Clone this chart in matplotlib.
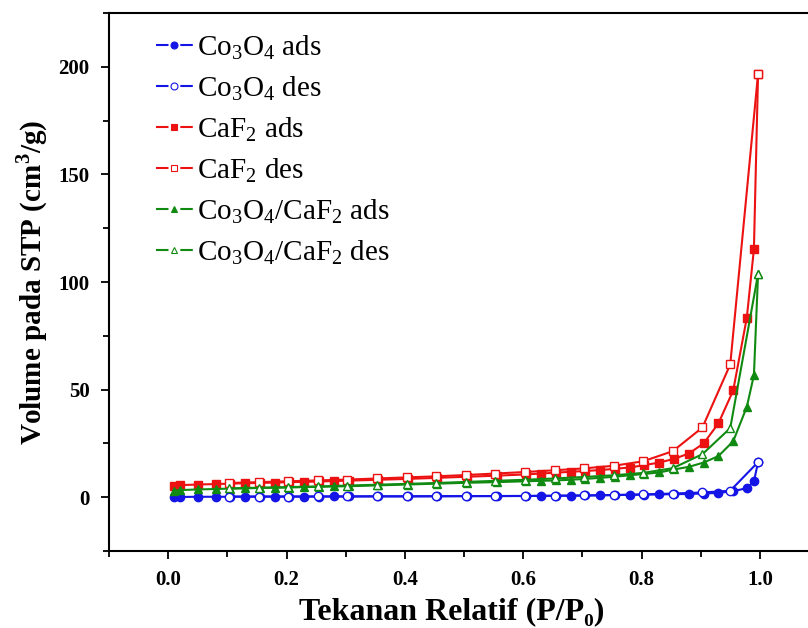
import matplotlib
matplotlib.use("Agg")
import matplotlib.pyplot as plt
from matplotlib.ticker import MultipleLocator
from matplotlib.lines import Line2D

plt.rcParams['font.family'] = ['Liberation Serif', 'DejaVu Serif']
plt.rcParams['mathtext.fontset'] = 'custom'
plt.rcParams['mathtext.rm'] = 'Liberation Serif'
plt.rcParams['mathtext.bf'] = 'Liberation Serif:bold'
plt.rcParams['lines.scale_dashes'] = False

# ---------------------------
# Data
# ---------------------------
ads_x = [0.01, 0.02, 0.05, 0.08, 0.105, 0.13, 0.155, 0.18, 0.205, 0.23, 0.255, 0.28,
         0.305, 0.355, 0.405, 0.455, 0.505, 0.555, 0.605, 0.63, 0.655, 0.68, 0.705,
         0.73, 0.755, 0.78, 0.805, 0.83, 0.855, 0.88, 0.905, 0.93, 0.955, 0.978, 0.99, 0.997]
des_x = [0.997, 0.95, 0.903, 0.853, 0.803, 0.753, 0.703, 0.653, 0.603, 0.553, 0.503,
         0.453, 0.403, 0.353, 0.303, 0.253, 0.203, 0.153, 0.103]

co3o4_ads = [0.0, 0.1, 0.2, 0.2, 0.2, 0.25, 0.25, 0.3, 0.3, 0.3, 0.3, 0.35,
             0.35, 0.4, 0.4, 0.45, 0.5, 0.5, 0.55, 0.6, 0.65, 0.7, 0.8,
             0.9, 1.0, 1.1, 1.2, 1.3, 1.4, 1.5, 1.7, 2.0, 2.8, 4.2, 7.3, 16.3]
co3o4_des = [16.3, 3.0, 2.2, 1.7, 1.3, 1.0, 0.8, 0.7, 0.6, 0.55, 0.5,
             0.45, 0.4, 0.4, 0.35, 0.35, 0.3, 0.3, 0.3]

caf2_ads = [5.2, 5.6, 5.9, 6.1, 6.3, 6.5, 6.6, 6.8, 7.0, 7.1, 7.3, 7.5,
            7.7, 8.1, 8.5, 9.0, 9.5, 10.0, 10.6, 11.0, 11.4, 11.8, 12.2,
            12.6, 13.2, 13.8, 14.9, 16.1, 17.8, 20.3, 25.0, 34.3, 49.6, 83.4, 115.3, 196.7]
caf2_des = [196.7, 61.7, 32.4, 21.4, 16.7, 14.6, 13.4, 12.5, 11.7, 11.0, 10.3,
            9.7, 9.2, 8.7, 8.2, 7.8, 7.4, 7.0, 6.6]

mix_ads = [3.0, 3.3, 3.6, 3.8, 4.0, 4.1, 4.3, 4.4, 4.5, 4.7, 4.8, 5.0,
           5.1, 5.5, 5.9, 6.3, 6.7, 7.0, 7.4, 7.6, 7.8, 8.1, 8.5,
           9.0, 9.5, 10.2, 10.8, 11.5, 12.9, 14.1, 16.1, 19.1, 26.0, 42.0, 56.7, 103.7]
mix_des = [103.7, 32.1, 20.0, 13.5, 11.3, 10.2, 9.4, 8.7, 8.1, 7.6, 7.1,
           6.6, 6.2, 5.8, 5.4, 5.0, 4.7, 4.4, 4.1]

BLUE = "#1414e6"
RED = "#ec1212"
GREEN = "#118a11"

fig = plt.figure(figsize=(8.08, 6.28), dpi=100)
# 0.0 at x=168px, 1.0 at x=760px -> 592 px per unit; right spine falls off the canvas
ax = fig.add_axes([109 / 808, 77 / 628, 710 / 808, 538 / 628])

series = [
    (ads_x, co3o4_ads, BLUE, "o", True, r"Co$_3$O$_4$ ads"),
    (des_x, co3o4_des, BLUE, "o", False, r"Co$_3$O$_4$ des"),
    (ads_x, caf2_ads, RED, "s", True, r"CaF$_2$ ads"),
    (des_x, caf2_des, RED, "s", False, r"CaF$_2$ des"),
    (ads_x, mix_ads, GREEN, "^", True, r"Co$_3$O$_4$/CaF$_2$ ads"),
    (des_x, mix_des, GREEN, "^", False, r"Co$_3$O$_4$/CaF$_2$ des"),
]

handles = []
labels = []
for xs, ys, c, m, filled, lab in series:
    fc = c if filled else "white"
    ax.plot(xs, ys, color=c, lw=1.5, marker=m, ms=6,
            mfc=fc, mec=c, mew=1.0, zorder=3 if filled else 4)
    # Origin-style legend key: line - marker - line
    seg = Line2D([], [], color=c, lw=1.5, dashes=(9, 8.5, 9, 100))
    mk = Line2D([], [], ls="none", marker=m, ms=5, mfc=fc, mec=c, mew=0.8)
    handles.append((seg, mk))
    labels.append(lab)

ax.set_xlim(-0.1, 1.1)
ax.set_ylim(-25, 225)
ax.xaxis.set_major_locator(MultipleLocator(0.2))
ax.xaxis.set_minor_locator(MultipleLocator(0.1))
ax.yaxis.set_major_locator(MultipleLocator(50))
ax.yaxis.set_minor_locator(MultipleLocator(25))
ax.set_xticks([0.0, 0.2, 0.4, 0.6, 0.8, 1.0])
ax.set_xticklabels(["0.0", "0.2", "0.4", "0.6", "0.8", "1.0"])

ax.spines['right'].set_visible(False)
for s in ax.spines.values():
    s.set_linewidth(1.5)
ax.tick_params(which='both', direction='out', width=1.3, top=False, right=False)
ax.tick_params(which='major', length=6, labelsize=15, pad=8)
ax.tick_params(which='minor', length=4)
for t in ax.get_xticklabels() + ax.get_yticklabels():
    t.set_fontweight('bold')

ax.set_xlabel("Tekanan Relatif (P/P\u2080)", fontsize=23, fontweight='bold')
ax.xaxis.set_label_coords(0.483, -0.086)
ax.set_ylabel(r"Volume pada STP (cm$^\mathbf{3}$/g)", fontsize=21, fontweight='bold', labelpad=6)

ax.legend(handles=handles, labels=labels, loc='upper left',
          bbox_to_anchor=(156 / 808, 1 - 33 / 628),
          bbox_transform=fig.transFigure, frameon=False, fontsize=21,
          handlelength=1.26, handletextpad=0.15, labelspacing=0.42,
          borderaxespad=0, borderpad=0)

fig.savefig("out.png", dpi=100)
